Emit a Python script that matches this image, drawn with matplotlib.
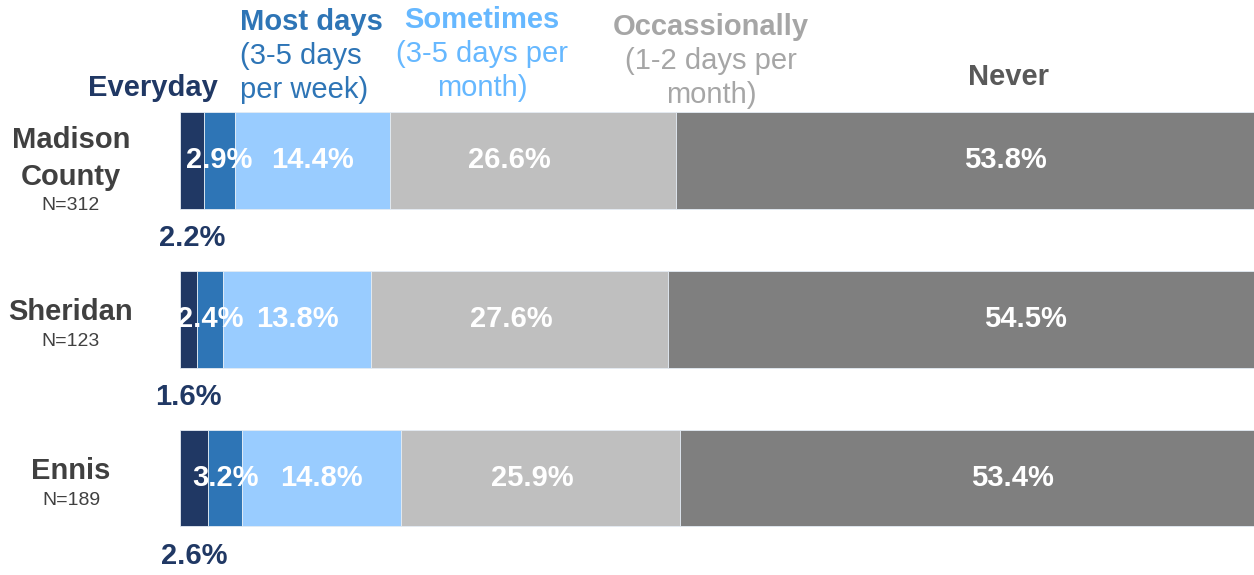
"""
Stacked horizontal bars: how often respondents do the activity, by area.
"""

import numpy as np
import matplotlib
matplotlib.use('Agg')
import matplotlib.pyplot as plt
import matplotlib.transforms as mtransforms

plt.rcParams['font.family'] = ['Liberation Sans', 'DejaVu Sans']

# ---- data ----
areas = ['Madison\nCounty', 'Sheridan', 'Ennis']
sample_sizes = ['N=312', 'N=123', 'N=189']
everyday = [2.2, 1.6, 2.6]
most_days = [2.9, 2.4, 3.2]
sometimes = [14.4, 13.8, 14.8]
occasionally = [26.6, 27.6, 25.9]
never = [53.8, 54.5, 53.4]

series = [everyday, most_days, sometimes, occasionally, never]
seg_colors = ['#203864', '#2E75B6', '#99CCFF', '#BFBFBF', '#7F7F7F']

# header: (bold title, sub lines, colour, x px, top y px, alignment)
headers = [
    ('Everyday', [], '#203864', 218, 88, 'right'),
    ('Most days', ['(3-5 days', 'per week)'], '#2E75B6', 240, 22, 'left'),
    ('Sometimes', ['(3-5 days per', 'month)'], '#66B8FF', 482, 20, 'center'),
    ('Occassionally', ['(1-2 days per', 'month)'], '#A6A6A6', 711, 27, 'center'),
    ('Never', [], '#595959', 1008, 77, 'center'),
]

FS = 21
W, H = 1254, 575
fig = plt.figure(figsize=(W / 100, H / 100), dpi=100)
ax = fig.add_axes([180 / W, 0, 1 - 180 / W, 1])

y = np.arange(len(areas))
left = np.zeros(len(areas))
for vals, col in zip(series, seg_colors):
    ax.barh(y, vals, left=left, height=0.61, color=col,
            edgecolor='#E4ECF4', linewidth=0.6)
    left += np.array(vals)

ax.set_xlim(0, 99.9)
# 1 unit = ~158.75 px, first bar centred at ~160 px from top
ax.set_ylim(2.611, -1.011)
ax.axis('off')

# value labels
occ_pos = [0.42, 0.47, 0.47]
nev_pos = [0.57, 0.61, 0.58]
for i in range(len(areas)):
    starts = np.cumsum([0] + [s[i] for s in series[:-1]])
    # everyday below the bar
    ax.text(starts[0] + everyday[i] / 2, y[i] + 0.49, f'{everyday[i]:.1f}%',
            ha='center', va='center', color='#203864', fontsize=FS, fontweight='bold')
    ax.text(starts[1] + most_days[i] / 2, y[i], f'{most_days[i]:.1f}%',
            ha='center', va='center', color='white', fontsize=FS, fontweight='bold')
    ax.text(starts[2] + sometimes[i] / 2, y[i], f'{sometimes[i]:.1f}%',
            ha='center', va='center', color='white', fontsize=FS, fontweight='bold')
    ax.text(starts[3] + occasionally[i] * occ_pos[i], y[i], f'{occasionally[i]:.1f}%',
            ha='center', va='center', color='white', fontsize=FS, fontweight='bold')
    ax.text(starts[4] + never[i] * nev_pos[i], y[i], f'{never[i]:.1f}%',
            ha='center', va='center', color='white', fontsize=FS, fontweight='bold')

# row labels
trans = mtransforms.blended_transform_factory(ax.transAxes, ax.transData)
for i, (name, n) in enumerate(zip(areas, sample_sizes)):
    lines = name.count('\n') + 1
    ax.text(-0.1015, y[i] - 0.044 + 0.031 * (lines - 1), name, transform=trans,
            ha='center', va='center', color='#404040', fontsize=FS,
            fontweight='bold', linespacing=1.4)
    ax.text(-0.1015, y[i] + 0.139 + 0.144 * (lines - 1), n, transform=trans,
            ha='center', va='center', color='#404040', fontsize=14)

# column headers
line_h = 34
for title, subs, col, xp, yp, ha in headers:
    fig.text(xp / W, 1 - yp / H, title, ha=ha, va='center', color=col,
             fontsize=FS, fontweight='bold')
    for k, s in enumerate(subs):
        fig.text(xp / W, 1 - (yp + line_h * (k + 1)) / H, s, ha=ha, va='center',
                 color=col, fontsize=FS)

fig.savefig('out.png', dpi=100)
